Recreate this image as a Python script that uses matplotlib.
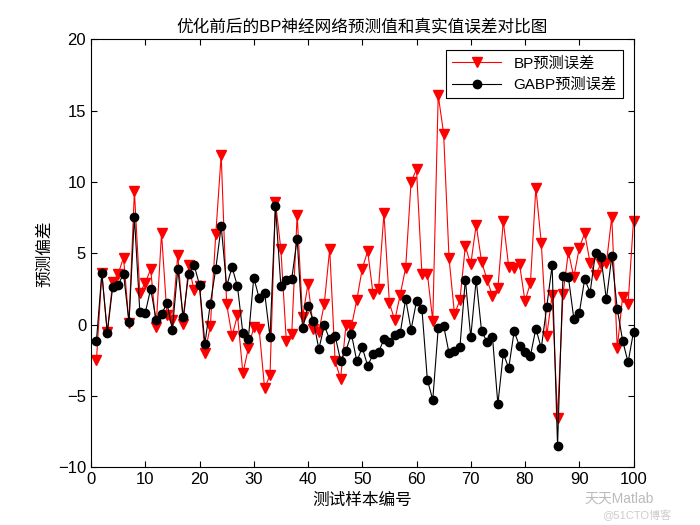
import numpy as np
import matplotlib
matplotlib.use("Agg")
import matplotlib.pyplot as plt

plt.rcParams['font.family'] = ['Liberation Sans', 'Noto Sans CJK SC', 'DejaVu Sans']

# prediction errors, samples 1..100
bp_err = [-2.5, 3.6, -0.5, 3.0, 3.55, 4.7, 0.1, 9.35, 2.25, 2.9,
          3.9, -0.2, 6.4, 0.7, 0.35, 4.9, 0.05, 4.15, 2.4, 2.7,
          -2.0, -0.1, 6.35, 11.9, 1.44, -0.8, 0.67, -3.42, -1.66, -0.19,
          -0.33, -4.47, -3.53, 8.6, 5.28, -1.13, -0.66, 7.7, 0.52, 2.85,
          -0.28, -0.5, 1.46, 5.3, -2.55, -3.8, -0.05, -0.15, 1.74, 3.92,
          5.16, 2.13, 2.5, 7.8, 1.52, 0.3, 2.11, 3.98, 10.0, 10.9,
          3.58, 3.58, 0.26, 16.1, 13.4, 4.64, 0.75, 1.71, 5.5, 4.22,
          7.0, 4.41, 3.16, 2.0, 2.56, 7.26, 4.05, 4.0, 4.22, 1.64,
          2.93, 9.6, 5.74, -0.82, 2.1, -6.56, 2.12, 5.1, 3.33, 5.37,
          6.42, 4.33, 3.5, 4.25, 4.3, 7.57, -1.65, 1.97, 1.46, 7.28]
gabp_err = [-1.15, 3.63, -0.58, 2.65, 2.78, 3.57, 0.16, 7.57, 0.89, 0.82,
            2.51, 0.35, 0.72, 1.52, -0.35, 3.91, 0.54, 3.54, 4.19, 2.78,
            -1.34, 1.48, 3.91, 6.91, 2.7, 4.03, 2.68, -0.62, -1.02, 3.3,
            1.85, 2.25, -0.88, 8.31, 2.68, 3.14, 3.2, 6.02, -0.27, 1.32,
            0.28, -1.72, -0.06, -1.04, -0.77, -2.52, -1.82, -0.64, -2.58, -1.6,
            -2.89, -2.07, -1.93, -1.03, -1.2, -0.75, -0.6, 1.8, -0.35, 1.64,
            1.1, -3.87, -5.27, -0.27, -0.07, -2.0, -1.85, -1.6, 3.16, -0.88,
            3.16, -0.47, -1.2, -0.85, -5.58, -2.02, -3.04, -0.47, -1.52, -1.95,
            -2.18, -0.28, -1.66, 1.24, 4.15, -8.5, 3.42, 3.33, 0.42, 0.8,
            3.2, 2.25, 5.05, 4.73, 1.77, 4.78, 1.11, -1.12, -2.65, -0.51]
samples = np.arange(1, len(bp_err) + 1)

x_ticks = np.arange(0, 101, 10)
y_ticks = np.arange(-10, 21, 5)

fig = plt.figure(figsize=(7, 5.25), dpi=100)
ax = fig.add_axes([0.13, 0.11, 0.775, 0.815])

ax.plot(samples, bp_err, color='red', lw=0.8, marker='v', markersize=7,
        markerfacecolor='red', markeredgecolor='red', label='BP预测误差',
        clip_on=False)
ax.plot(samples, gabp_err, color='black', lw=0.8, marker='o', markersize=6,
        markerfacecolor='black', markeredgecolor='black', label='GABP预测误差',
        clip_on=False)

ax.set_xlim(0, 100)
ax.set_ylim(-10, 20)
ax.set_xticks(x_ticks)
ax.set_yticks(y_ticks)
ax.tick_params(direction='in', top=True, right=True, labelsize=12, length=4)
for s in ax.spines.values():
    s.set_linewidth(0.8)

ax.set_title('优化前后的BP神经网络预测值和真实值误差对比图', fontsize=12)
ax.set_xlabel('测试样本编号', fontsize=12)
ax.set_ylabel('预测偏差', fontsize=12)

leg = ax.legend(loc='upper right', fontsize=11, fancybox=False, framealpha=1,
                edgecolor='black', borderaxespad=0.7, handlelength=3.2)
leg.get_frame().set_linewidth(0.8)

# watermark, bottom right corner
fig.text(0.835, 0.064, '天天Matlab', fontsize=10, color='#bbbbbb', va='top')
fig.text(0.86, 0.03, '@51CTO博客', fontsize=8, color='#cccccc', va='top')

fig.savefig('out.png', dpi=100)
